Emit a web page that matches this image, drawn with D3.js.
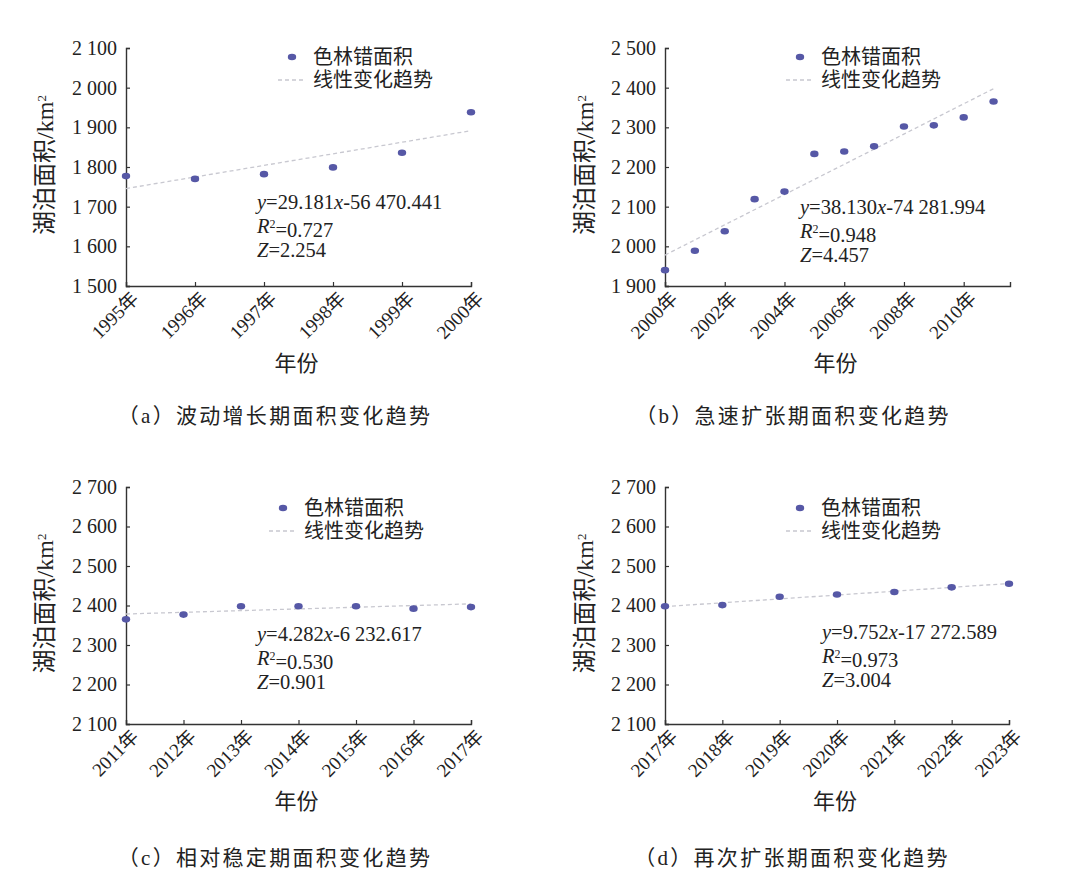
<!DOCTYPE html>
<html>
<head>
<meta charset="utf-8">
<script src="https://cdn.jsdelivr.net/npm/d3@7"></script>
<style>
  body { margin: 0; background: #fff; }
</style>
</head>
<body>
<script>
// data
const yearsA = [1995, 1996, 1997, 1998, 1999, 2000]
const areaA = [1777, 1770, 1782, 1799, 1836, 1938]
const yearsB = [2000, 2001, 2002, 2003, 2004, 2005, 2006, 2007, 2008, 2009, 2010, 2011]
const areaB = [1940, 1989, 2038, 2119, 2138, 2233, 2239, 2252, 2302, 2305, 2325, 2365]
const yearsC = [2011, 2012, 2013, 2014, 2015, 2016, 2017]
const areaC = [2365, 2377, 2398, 2398, 2398, 2392, 2396]
const yearsD = [2017, 2018, 2019, 2020, 2021, 2022, 2023]
const areaD = [2398, 2401, 2422, 2428, 2434, 2446, 2455]

// trend equations  y = k*x + b
const slopes = [29.181, 38.130, 4.282, 9.752]
const intercepts = [-56470.441, -74281.994, -6232.617, -17272.589]
const slopeText = ["29.181", "38.130", "4.282", "9.752"]
const interceptText = ["56 470.441", "74 281.994", "6 232.617", "17 272.589"]
const r2Text = ["0.727", "0.948", "0.530", "0.973"]
const zText = ["2.254", "4.457", "0.901", "3.004"]

const yDomains = [[1500, 2100], [1900, 2500], [2100, 2700], [2100, 2700]]
const xTickYears = [yearsA, [2000, 2002, 2004, 2006, 2008, 2010], yearsC, yearsD]
const captionTags = ["a", "b", "c", "d"]
const captions = ["波动增长期面积变化趋势", "急速扩张期面积变化趋势",
                  "相对稳定期面积变化趋势", "再次扩张期面积变化趋势"]
const legendLabels = ["色林错面积", "线性变化趋势"]

const SERIF = "'Liberation Serif', 'Noto Sans CJK SC', serif"
const CJK = "'Noto Sans CJK SC', sans-serif"

const W = 1066, H = 889
const svg = d3.select("body").append("svg")
    .attr("width", W)
    .attr("height", H)

const fmt = d3.formatLocale({decimal: ".", thousands: " ", grouping: [3], currency: ["", ""]}).format(",")

const panels = [
    {years: yearsA, area: areaA, x0: 126, x1: 471, xEnd: 2000, y0: 48, y1: 286,
     legX: 292, legY: 57, eqX: 257, eqY: 209, titleX: 45, capX: 275, capY: 416},
    {years: yearsB, area: areaB, x0: 665, x1: 1010, xEnd: 2011.55, y0: 48, y1: 286,
     legX: 800, legY: 57, eqX: 800, eqY: 214, titleX: 585, capX: 793, capY: 416},
    {years: yearsC, area: areaC, x0: 126, x1: 471, xEnd: 2017, y0: 487, y1: 724,
     legX: 283, legY: 508, eqX: 257, eqY: 641, titleX: 45, capX: 275, capY: 858},
    {years: yearsD, area: areaD, x0: 665, x1: 1009, xEnd: 2023, y0: 487, y1: 724,
     legX: 800, legY: 508, eqX: 822, eqY: 639, titleX: 585, capX: 792, capY: 858}
]

panels.forEach(function(p, i){
    let g = svg.append("g")

    let x = d3.scaleLinear().domain([p.years[0], p.xEnd]).range([p.x0, p.x1])
    let y = d3.scaleLinear().domain(yDomains[i]).range([p.y1, p.y0])

    // y axis
    let yAxis = g.append("g")
        .attr("transform", "translate(" + p.x0 + ",0)")
        .call(d3.axisLeft(y).ticks(6).tickSize(-4).tickPadding(9).tickFormat(fmt))
    yAxis.select(".domain").attr("stroke", "#333").attr("stroke-width", 1.4)
    yAxis.selectAll(".tick line").attr("stroke", "#333").attr("stroke-width", 1.2)
    yAxis.selectAll("text")
        .style("font-size", "20px")
        .style("font-family", SERIF)
        .attr("fill", "#222")

    // x axis
    let xAxis = g.append("g")
        .attr("transform", "translate(0," + p.y1 + ")")
        .call(d3.axisBottom(x).tickValues(xTickYears[i]).tickSize(-4).tickFormat(""))
    xAxis.select(".domain").attr("stroke", "#333").attr("stroke-width", 1.4)
    xAxis.selectAll(".tick line").attr("stroke", "#333").attr("stroke-width", 1.2)

    g.selectAll(".xlab")
        .data(xTickYears[i])
        .enter()
        .append("text")
        .attr("class", "xlab")
        .attr("transform", d => "translate(" + (x(d) + 9) + "," + (p.y1 + 9) + ") rotate(-45)")
        .attr("text-anchor", "end")
        .attr("dy", "0.35em")
        .attr("fill", "#222")
        .style("font-family", SERIF)
        .style("font-size", "19px")
        .text(d => d + "年")

    // axis titles
    let yt = g.append("text")
        .attr("transform", "translate(" + p.titleX + "," + ((p.y0 + p.y1) / 2 - 2) + ") rotate(-90)")
        .attr("text-anchor", "middle")
        .attr("dy", "0.35em")
        .attr("fill", "#222")
        .style("font-family", SERIF)
        .style("font-size", "24px")
    yt.append("tspan").style("font-family", CJK).text("湖泊面积")
    yt.append("tspan").text("/km")
    yt.append("tspan").attr("dy", "-0.55em").style("font-size", "13px").text("2")

    g.append("text")
        .attr("x", (p.x0 + p.x1) / 2 - 2)
        .attr("y", p.y1 + 85)
        .attr("text-anchor", "middle")
        .attr("fill", "#222")
        .style("font-family", CJK)
        .style("font-size", "22px")
        .text("年份")

    // trend line
    let trend = [p.years[0], p.years[p.years.length - 1]]
    g.append("line")
        .attr("x1", x(trend[0]))
        .attr("y1", y(slopes[i] * trend[0] + intercepts[i]))
        .attr("x2", x(trend[1]))
        .attr("y2", y(slopes[i] * trend[1] + intercepts[i]))
        .attr("stroke", "#c8c8d0")
        .attr("stroke-width", 1.3)
        .attr("stroke-dasharray", "4,3")

    // points
    g.selectAll(".pt")
        .data(p.years)
        .enter()
        .append("ellipse")
        .attr("class", "pt")
        .attr("cx", d => x(d))
        .attr("cy", (d, j) => y(p.area[j]))
        .attr("rx", 4.2)
        .attr("ry", 3.3)
        .attr("fill", "#5658a6")

    // legend
    g.append("ellipse")
        .attr("cx", p.legX)
        .attr("cy", p.legY)
        .attr("rx", 4.2)
        .attr("ry", 3.3)
        .attr("fill", "#5658a6")
    g.append("line")
        .attr("x1", p.legX - 14)
        .attr("x2", p.legX + 13)
        .attr("y1", p.legY + 23)
        .attr("y2", p.legY + 23)
        .attr("stroke", "#c8c8d0")
        .attr("stroke-width", 1.3)
        .attr("stroke-dasharray", "4,3")
    legendLabels.forEach(function(lab, k){
        g.append("text")
            .attr("x", p.legX + 21)
            .attr("y", p.legY + k * 23)
            .attr("dy", "0.36em")
            .attr("fill", "#222")
            .style("font-family", SERIF)
            .style("font-size", "20px")
            .text(lab)
    })

    // equation block
    let eq = g.append("text")
        .attr("x", p.eqX)
        .attr("y", p.eqY)
        .attr("fill", "#222")
        .style("font-family", SERIF)
        .style("font-size", "20.5px")
    eq.append("tspan").style("font-style", "italic").text("y")
    eq.append("tspan").text("=" + slopeText[i])
    eq.append("tspan").style("font-style", "italic").text("x")
    eq.append("tspan").text("-" + interceptText[i])

    let r2 = g.append("text")
        .attr("x", p.eqX)
        .attr("y", p.eqY + 24)
        .attr("fill", "#222")
        .style("font-family", SERIF)
        .style("font-size", "20.5px")
    r2.append("tspan").style("font-style", "italic").text("R")
    r2.append("tspan").attr("dy", "-0.45em").style("font-size", "12px").text("2")
    r2.append("tspan").attr("dy", "0.45em").text("=" + r2Text[i])

    let z = g.append("text")
        .attr("x", p.eqX)
        .attr("y", p.eqY + 48)
        .attr("fill", "#222")
        .style("font-family", SERIF)
        .style("font-size", "20.5px")
    z.append("tspan").style("font-style", "italic").text("Z")
    z.append("tspan").text("=" + zText[i])

    // caption
    let cap = g.append("text")
        .attr("x", p.capX)
        .attr("y", p.capY)
        .attr("text-anchor", "middle")
        .attr("dy", "0.35em")
        .attr("fill", "#222")
        .style("font-family", CJK)
        .style("font-size", "21px")
        .style("letter-spacing", "2.3px")
    cap.append("tspan").text("（")
    cap.append("tspan").style("font-family", SERIF).text(captionTags[i])
    cap.append("tspan").text("）" + captions[i])
})
</script>
</body>
</html>
